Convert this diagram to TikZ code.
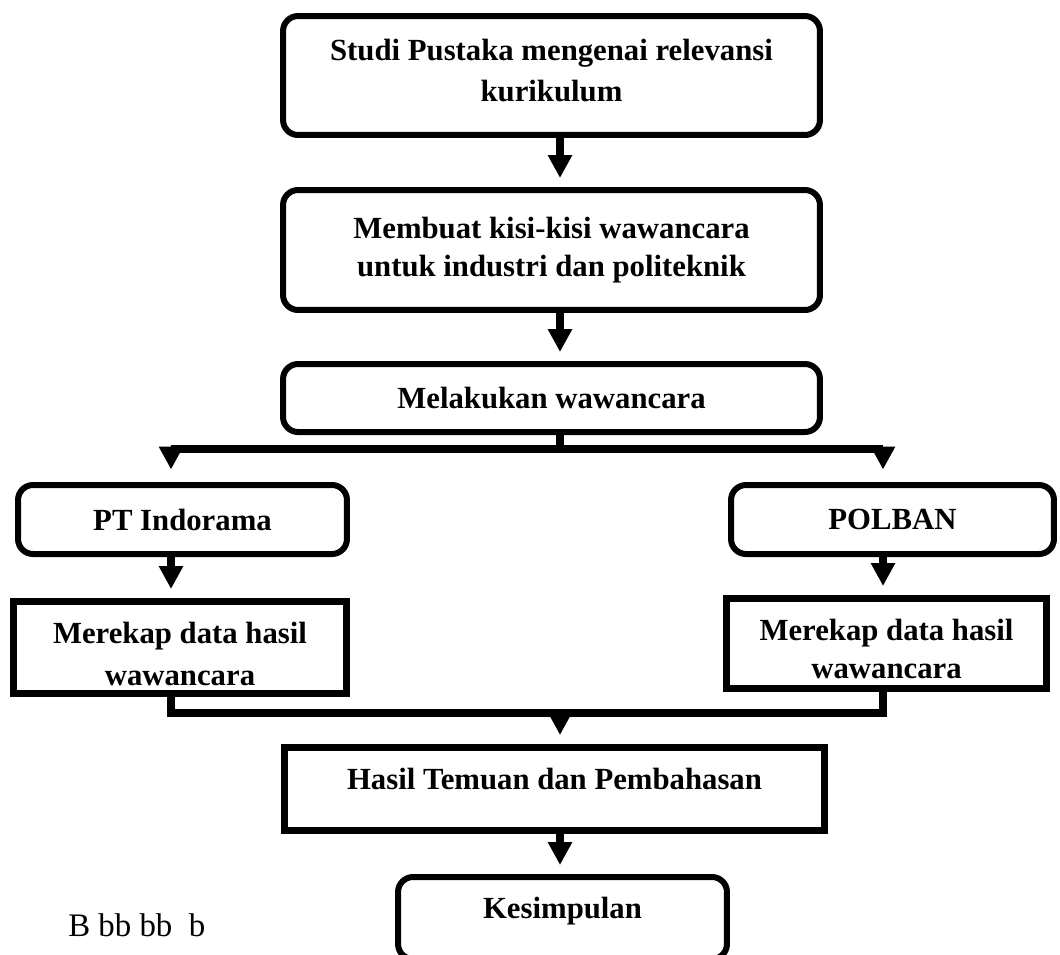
\documentclass[tikz,border=0pt]{standalone}
\usepackage{fontspec}
\setmainfont{Liberation Serif}
\usetikzlibrary{arrows.meta}

\tikzset{
  boxfont/.style={font=\fontsize{17.5}{20}\selectfont\bfseries},
  roundbox/.style={draw, line width=0.12cm, rounded corners=0.3cm, align=center, boxfont},
  squarebox/.style={draw, line width=0.14cm, align=center, boxfont},
  raised/.style={text depth=0.42cm},
  link/.style={line width=0.16cm},
  arr/.style={line width=0.16cm, -{Triangle[width=0.46cm,length=0.46cm]}, shorten >=0.18cm},
}

\begin{document}
\begin{tikzpicture}[x=0.02cm, y=-0.02cm]

        \useasboundingbox (0,0) rectangle (1060,954);
        \clip (0,0) rectangle (1060,954);

        \coordinate (mid) at (560,0);
        \coordinate (lft) at (171,0);
        \coordinate (rgt) at (883,0);

        \node[roundbox, minimum width=10.74cm, minimum height=2.38cm] (studi) at (551.5,75.5)
            {Studi Pustaka mengenai relevansi\\[3pt] kurikulum\rule[-0.2cm]{0pt}{0pt}};
        \node[roundbox, minimum width=10.74cm, minimum height=2.40cm] (kisi) at (551.5,250)
            {Membuat kisi-kisi wawancara\\[2pt] untuk industri dan politeknik\rule[-0.12cm]{0pt}{0pt}};
        \node[roundbox, minimum width=10.74cm, minimum height=1.36cm] (wawan) at (551.5,398)
            {Melakukan wawancara};

        \node[roundbox, minimum width=6.58cm, minimum height=1.38cm] (indo) at (182.5,519.5) {PT Indorama};
        \node[roundbox, minimum width=6.46cm, minimum height=1.38cm] (polban) at (892.5,519.5) {POLBAN};

        \node[squarebox, minimum width=6.66cm, minimum height=1.84cm] (rekapa) at (180,647.5)
            {\rule{0pt}{0.7cm}Merekap data hasil\\[4pt] wawancara};
        \node[squarebox, minimum width=6.40cm, minimum height=1.80cm] (rekapb) at (886.5,643.5)
            {\rule{0pt}{0.64cm}Merekap data hasil\\[2pt] wawancara};

        \node[squarebox, raised, minimum width=10.80cm, minimum height=1.66cm] (hasil) at (554.5,789)
            {Hasil Temuan dan Pembahasan};
        \node[roundbox, raised, minimum width=6.58cm, minimum height=1.64cm] (simpul) at (562.5,918)
            {Kesimpulan};

        \node[anchor=base west, font=\fontsize{18.7}{21}\selectfont, inner sep=0pt] (catatan) at (68,936)
            {B bb bb\ \ b};

        \draw[arr] (studi.south -| mid) -- (kisi.north -| mid);
        \draw[arr] (kisi.south -| mid) -- (wawan.north -| mid);

        \draw[link] (wawan.south -| mid) -- ++(0,14) coordinate (fork);
        \draw[arr, shorten >=0.25cm] (fork) -| (indo.north -| lft);
        \draw[arr, shorten >=0.25cm] (fork) -| (polban.north -| rgt);

        \draw[arr] (indo.south -| lft) -- (rekapa.north -| lft);
        \draw[arr] (polban.south -| rgt) -- (rekapb.north -| rgt);

        \coordinate (merge) at (560,713);
        \draw[link] (rekapa.south -| lft) |- (merge) -| (rekapb.south -| rgt);
        \draw[arr] (merge) -- (hasil.north -| mid);

        \draw[arr] (hasil.south -| mid) -- (simpul.north -| mid);
    \end{tikzpicture}
\end{document}
